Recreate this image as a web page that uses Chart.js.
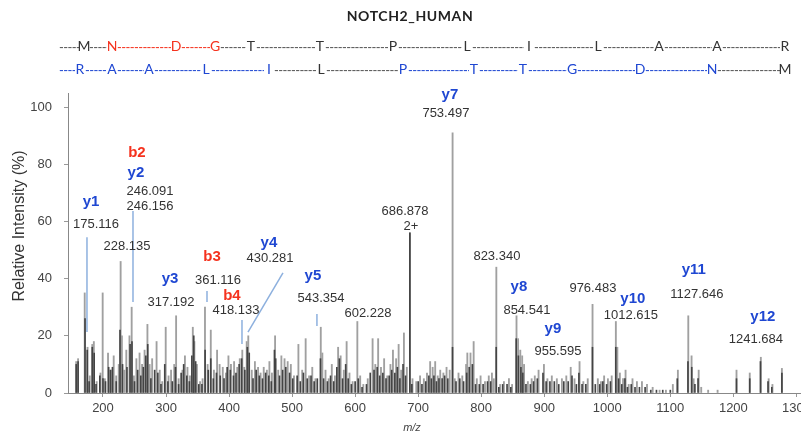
<!DOCTYPE html>
<html lang="en">
<head>
<meta charset="UTF-8" />
<title>NOTCH2_HUMAN MS/MS spectrum</title>
<script src="https://cdn.jsdelivr.net/npm/chart.js"></script>
<style>
  body {
    margin: 0;
    width: 801px;
    height: 437px;
    overflow: hidden;
    position: relative;
    background: #fff;
    font-family: Lato, 'Liberation Sans', sans-serif;
  }
  #chart { position: absolute; left: 0; top: 0; }
  #title {
    position: absolute; top: 7px; left: 0; width: 820px;
    text-align: center; font-weight: bold; font-size: 14px;
    letter-spacing: 0.6px; color: #222;
  }
  .seq { position: absolute; font-size: 14px; line-height: 16px; white-space: nowrap; }
  .dash { overflow: hidden; font-size: 13px; letter-spacing: -0.6px; }
</style>
</head>
<body>
<canvas id="chart" width="820" height="437"></canvas>
<div id="title">NOTCH2_HUMAN</div>
<div id="header"></div>

<script>
// ---- sequence ladder (b ions on top, y ions below) ----
const topResidues = ['M','N','D','G','T','T','P','L','I','L','A','A','R'];
const topMarked   = [false, true, true, true, false, false, false, false, false, false, false, false, false];
const botResidues = ['R','A','A','L','I','L','P','T','T','G','D','N','M'];
const botMarked   = [true, true, true, true, true, false, true, true, true, true, true, true, false];

// ---- peaks: light (outer) trace ----
const lightMz = [157.5,160.5,171,175.5,179,183,185.5,190,196,199.5,203,208,212,217,221,225,228,230,234,237,242,245.5,249,253,258,262,266,270.5,274,278,285,290,294,299.5,304,308,313,316,320,326,330,334,338,342.5,345,349,354,358,361.8,366,371,376,381,385,390,395,399,403,408,413,417,421,424,428,430.5,436,441,446,450,455,460,464,468,473,478,483,488,493,498,503,510,516,521.5,527,532,537,545.5,548,553,558,563,568,573,577,582,586.5,591,596,603.5,608,613,620,627.7,632,636.5,641,646,651,656,660,665,669,673,677.4,682,687,691,697,703,709,714,719,723,727,731,735,740,745,750,754.6,758,764,770,776,778,783,788,793,799,806,812,817,820,824,830,836,844,849,856,858.5,862,865,868,874,880,885,891,899.5,905,912,920,928,935,942,948,956,962,969,976.6,985,990,995,1001,1007,1013.6,1016,1020,1025,1029,1034,1040,1047,1055,1063,1072,1083,1093,1104,1112,1128.5,1133.7,1137,1145,1149,1160,1175,1205,1226,1243.6,1256,1262,1277];
const lightInt = [11,12,35,16,6,17,18,4,7,35,5,14,8,13,6,10,46,20,8,15,20,30,6,12,14,10,15,24,10,12,18,8,4,23,6,8,10,27,5,8,13,9,6,23,18,10,4,5,30,10,22,8,15,10,9,7,13,10,11,9,12,15,9,18,20,8,11,9,7,9,8,11,7,20,8,13,12,11,10,6,17,8,19,6,9,5,23,14,8,5,10,6,16,13,8,18,7,4,25,6,3,5,19,10,19,9,12,6,10,15,12,17,8,21,9,56,5,4,6,5,7,11,9,11,6,8,7,9,8,91,5,7,6,10,14,14,18,5,6,4,6,7,5,44,3,4,5,3,27,19,15,13,10,4,5,6,8,10,5,6,5,5,6,9,5,11,4,5,31,5,4,6,5,6,25,16,7,5,8,3,5,4,4,3,2,1,1,3,8,27,13,5,8,2,1,1,8,7,12.5,5,3,8.6];

// ---- peaks: dark (overlaid) trace ----
const darkMz = [157.5,160.5,171.5,175,178,183,186,189,195,200,204,209,212,215,221,227,231,238,243,246,250,255,260,264,268,271,276,282,287,292,298,303,310,315,320,324,328,333,337,341,344,347,352,357,362,367,371,375,380,386,392,397,402,407,411,416,420,425,429,432,438,443,448,453,458,463,467,472,474,480,485,490,496,501,508,513,518,524,530,535,540,545,550,556,561,566,571,575,580,585,589,594,600,605,611,618,624,630,635,639,644,649,654,658,663,667,671,676,680,686.8,690,700,706,712,717,721,725,729,733,738,742,747,754.5,760,766,772,777,781,786,791,797,803,810,815,823.8,828,834,841,847,855.5,859,863,866,871,878,883,889,898,903,909,916,923,931,938,944,951,955,960,966,976.5,981,988,993,999,1005,1013.5,1018,1023,1028,1032,1038,1044,1051,1060,1069,1078,1088,1100,1111,1128,1134,1139,1144,1205,1226,1243,1255,1261,1277];
const darkInt = [10,11,26,15,4,16,14,3,6,5,4,9,8,9,4,22,10,9,17,18,4,8,6,9,13,17,5,8,7,3,10,4,4,9,3,7,10,6,4,13,20,11,3,3,15,8,12,5,7,6,5,9,8,6,7,10,12,8,16,14,5,8,6,5,7,6,4,15,12,6,8,9,7,5,6,4,7,5,6,4,5,12,5,4,6,4,9,12,5,10,5,3,4,5,2,3,7,8,9,6,7,5,6,8,7,9,5,10,6,56,3,4,3,4,6,5,6,4,5,5,6,5,16,4,5,4,7,9,10,3,3,3,4,4,16,2,3,3,2,19,13,9,7,3,3,4,5,7,4,4,4,3,4,4,6,3,7,3,3,16,3,3,4,3,4,16,5,3,5,2,3,2,2,2,1,1,1,1,5,11,9,3,5,5,5,11,4,2,7];

// ---- fragment ion labels (name, m/z, intensity where the label sits) ----
const ionNames = ['y1','b2','y2','y3','b3','b4','y4','y5','y7','y8','y9','y10','y11','y12'];
const ionMz    = [181,253.9,252.3,306.3,372.9,404.6,463.3,533.1,750.4,859.8,913.7,1040.6,1137.3,1246.8];
const ionInt   = [66.8,83.9,76.9,39.9,47.6,33.9,52.4,40.9,104.2,37.1,22.4,32.9,43.0,26.6];

// ---- observed mass labels ----
const massText = ['175.116','246.091','246.156','228.135','317.192','361.116','418.133','430.281','543.354','602.228','686.878','2+','753.497','823.340','854.541','955.595','976.483','1012.615','1127.646','1241.684'];
const massMz   = [188.9,274.5,274.5,238.1,307.9,382.4,410.9,464.9,545.8,620.3,679.0,688.5,744.0,824.9,872.5,921.7,977.2,1037.4,1142.1,1235.7];
const massInt  = [59.1,70.6,65.4,51.4,31.5,39.2,29.0,46.9,33.2,28.0,63.6,58.4,97.9,47.6,29.0,14.7,36.4,27.3,34.3,18.9];

// ---- leader lines from labels to peaks [mz1, int1, mz2, int2] ----
const leaders = [
  [174.6, 54.5, 174.6, 21.3],
  [247.6, 63.6, 247.6, 31.8],
  [365.0, 35.7, 365.0, 31.8],
  [420.5, 25.5, 420.5, 17.1],
  [485.5, 42.0, 430.0, 21.3],
  [539.4, 27.6, 539.4, 23.4]
];

const xTicks = [200,300,400,500,600,700,800,900,1000,1100,1200,1300];
const yTicks = [0,20,40,60,80,100];

const RED = '#f5321e';
const BLUE = '#1f47d2';

// ---- header ladder ----
const header = document.getElementById('header');
const topX = [84,112,176,215,251,320,393,467,529,598,659,717,785];
const botX = [80,112,149,206,269,321,403,474,523,572,640,712,785];

function addSpan(cls, text, left, top, color, extra) {
  const s = document.createElement('span');
  s.className = cls;
  s.textContent = text;
  s.style.left = left + 'px';
  s.style.top = top + 'px';
  s.style.color = color;
  Object.assign(s.style, extra || {});
  header.appendChild(s);
  return s;
}

function buildLine(residues, xs, marked, markColor, y, dashMarked) {
  let prev = 59;
  residues.forEach((ch, i) => {
    const x = xs[i];
    const dc = dashMarked[i] ? markColor : '#555';
    addSpan('seq dash', '-'.repeat(50), prev, y - 7, dc, { width: Math.max(0, x - 5 - prev) + 'px' });
    addSpan('seq', ch, x, y - 8, marked[i] ? markColor : '#333', { transform: 'translateX(-50%)' });
    prev = x + 5;
  });
}

// dash segment before each residue takes the colour of the fragment run
buildLine(topResidues, topX, topMarked, RED, 46,
  [false, false, true, true, false, false, false, false, false, false, false, false, false]);
buildLine(botResidues, botX, botMarked, BLUE, 69,
  [true, true, true, true, true, false, false, true, true, true, true, true, false]);

// ---- annotation plugin ----
const annotate = {
  id: 'annotate',
  afterDatasetsDraw(chart) {
    const { ctx, scales: { x, y } } = chart;
    ctx.save();

    ctx.strokeStyle = '#8db0de';
    ctx.lineWidth = 1.5;
    leaders.forEach(l => {
      ctx.beginPath();
      ctx.moveTo(x.getPixelForValue(l[0]), y.getPixelForValue(l[1]));
      ctx.lineTo(x.getPixelForValue(l[2]), y.getPixelForValue(l[3]));
      ctx.stroke();
    });

    ctx.textAlign = 'center';
    ctx.textBaseline = 'middle';
    ctx.font = 'bold 15px "Liberation Sans", Arial, sans-serif';
    ionNames.forEach((n, i) => {
      ctx.fillStyle = n[0] === 'b' ? RED : BLUE;
      ctx.fillText(n, x.getPixelForValue(ionMz[i]), y.getPixelForValue(ionInt[i]));
    });

    ctx.font = '13px "Liberation Sans", Arial, sans-serif';
    ctx.fillStyle = '#333';
    massText.forEach((t, i) => {
      ctx.fillText(t, x.getPixelForValue(massMz[i]), y.getPixelForValue(massInt[i]));
    });

    // axis titles
    ctx.font = '16px "Liberation Sans", Arial, sans-serif';
    ctx.fillStyle = '#333';
    ctx.translate(20, 226);
    ctx.rotate(-Math.PI / 2);
    ctx.fillText('Relative Intensity (%)', 0, 0);
    ctx.setTransform(1, 0, 0, 1, 0, 0);
    ctx.font = 'italic 11px "Liberation Sans", Arial, sans-serif';
    ctx.fillStyle = '#444';
    ctx.fillText('m/z', 412, 428);

    ctx.restore();
  }
};

const toPoints = (xs, ys) => xs.map((v, i) => ({ x: v, y: ys[i] }));

new Chart(document.getElementById('chart'), {
  type: 'bar',
  data: {
    datasets: [
      {
        label: 'dark',
        data: toPoints(darkMz, darkInt),
        backgroundColor: '#444',
        barThickness: 1,
        order: 0
      },
      {
        label: 'light',
        data: toPoints(lightMz, lightInt),
        backgroundColor: '#a0a0a0',
        barThickness: 1.2,
        order: 1
      }
    ]
  },
  options: {
    responsive: false,
    animation: false,
    grouped: false,
    layout: { padding: { top: 93, left: 0, right: 11, bottom: 0 } },
    plugins: { legend: { display: false }, tooltip: { enabled: false } },
    scales: {
      x: {
        type: 'linear',
        min: 144.5,
        max: 1320,
        offset: false,
        grid: { display: true, drawOnChartArea: false, offset: false, tickLength: 4, color: '#999' },
        border: { display: true, color: '#888' },
        ticks: {
          color: '#444', font: { size: 13, family: '"Liberation Sans", Arial' }, padding: 4, maxRotation: 0,
          callback: v => String(v)
        },
        afterBuildTicks: s => { s.ticks = xTicks.map(v => ({ value: v })); },
        afterFit: s => { s.height = 44; }
      },
      y: {
        min: 0,
        max: 104.9,
        grid: { display: true, drawOnChartArea: false, tickLength: 4, color: '#999' },
        border: { display: true, color: '#888' },
        ticks: { color: '#444', font: { size: 13, family: '"Liberation Sans", Arial' }, padding: 12 },
        afterBuildTicks: s => { s.ticks = yTicks.map(v => ({ value: v })); },
        afterFit: s => { s.width = 68; }
      }
    }
  },
  plugins: [annotate]
});
</script>
</body>
</html>
